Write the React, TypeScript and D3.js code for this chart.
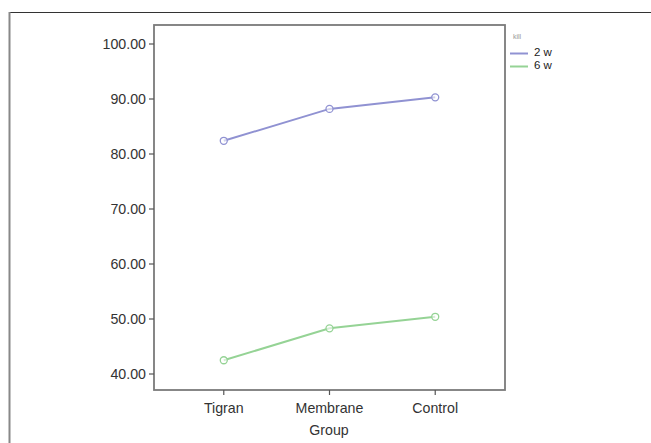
import React from "react";
import * as d3 from "d3";

const groups = ["Tigran", "Membrane", "Control"];
const seriesNames = ["2 w", "6 w"];
const values2w = [82.4, 88.2, 90.3];
const values6w = [42.5, 48.3, 50.4];
const yTicks = [40, 50, 60, 70, 80, 90, 100];
const colors = ["#9092d2", "#95d395"];

export default function App() {
  const W = 651, H = 443;
  const left = 154, right = 505, top = 25, bottom = 390;
  const x = d3.scalePoint<string>().domain(groups).range([left, right]).padding(0.66);
  const y = d3.scaleLinear().domain([40, 100]).range([374, 44]);
  const line = d3.line<number>().x((_, i) => x(groups[i]) as number).y((d) => y(d));
  const series = [values2w, values6w];
  const font = "Liberation Sans, Arial, sans-serif";
  return (
    <svg width={W} height={H} style={{ position: "absolute", left: 0, top: 0, background: "#fff" }} fontFamily={font}>
      <rect x={0} y={0} width={W} height={H} fill="#fff" />
      {/* outer frame */}
      <line x1={9} y1={12.5} x2={W} y2={12.5} stroke="#333" strokeWidth={1.2} />
      <line x1={9.5} y1={12} x2={9.5} y2={H} stroke="#888" strokeWidth={2} />
      {/* plot frame */}
      <rect x={left} y={top} width={right - left} height={bottom - top} fill="none" stroke="#7a7a7a" strokeWidth={1.8} />
      {/* y ticks */}
      {yTicks.map((t) => (
        <g key={t}>
          <line x1={left - 5} x2={left} y1={y(t)} y2={y(t)} stroke="#555" strokeWidth={1.2} />
          <text x={left - 8} y={y(t)} dy="0.35em" textAnchor="end" fontSize={14.2} fill="#333">
            {t.toFixed(2)}
          </text>
        </g>
      ))}
      {/* x ticks */}
      {groups.map((g) => (
        <g key={g}>
          <line x1={x(g)} x2={x(g)} y1={bottom} y2={bottom + 5} stroke="#555" strokeWidth={1.2} />
          <text x={x(g)} y={bottom + 18} dy="0.35em" textAnchor="middle" fontSize={14.2} fill="#333">
            {g}
          </text>
        </g>
      ))}
      <text x={(left + right) / 2 - 0.5} y={bottom + 40} dy="0.35em" textAnchor="middle" fontSize={14.2} fill="#333">
        Group
      </text>
      {/* series */}
      {series.map((s, si) => (
        <g key={si}>
          <path d={line(s) || ""} fill="none" stroke={colors[si]} strokeWidth={2} />
          {s.map((v, i) => (
            <circle key={i} cx={x(groups[i])} cy={y(v)} r={3.5} fill="#fff" fillOpacity={0.6} stroke={colors[si]} strokeWidth={1.3} />
          ))}
        </g>
      ))}
      {/* legend */}
      <text x={513} y={37} dy="0.35em" fontSize={7} fill="#999">kill</text>
      {seriesNames.map((n, i) => (
        <g key={n}>
          <line x1={510} x2={528} y1={53.5 + i * 13} y2={53.5 + i * 13} stroke={colors[i]} strokeWidth={2} />
          <text x={534} y={52 + i * 13} dy="0.35em" fontSize={11.5} fill="#222">{n}</text>
        </g>
      ))}
    </svg>
  );
}
